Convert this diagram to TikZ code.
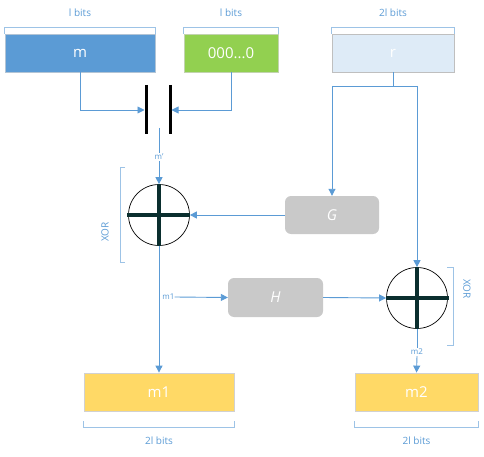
\documentclass[tikz,border=0pt]{standalone}
\usepackage{fontspec}
\setmainfont{Open Sans}
\usetikzlibrary{arrows.meta}
\definecolor{lblue}{HTML}{5B9BD5}
\definecolor{brk}{HTML}{9DC3E6}
\definecolor{mblue}{HTML}{5B9BD5}
\definecolor{zgreen}{HTML}{92D050}
\definecolor{rblue}{HTML}{DEEBF7}
\definecolor{ggray}{HTML}{C9C9C9}
\definecolor{yel}{HTML}{FFD966}
\definecolor{crossc}{HTML}{0A2E2E}
\tikzset{
  box/.style={draw=#1!70!black!40, line width=0.8pt, fill=#1, text=white, font=\fontsize{15}{17}\selectfont, inner sep=0pt},
  fbox/.style={rounded corners=6pt, fill=ggray, text=white, font=\itshape\fontsize{15}{17}\selectfont, inner sep=0pt, minimum width=94pt, minimum height=38pt},
  arr/.style={draw=lblue, line width=0.9pt, -{Triangle[length=7pt,width=7pt]}},
  ln/.style={draw=lblue, line width=0.9pt},
  brack/.style={draw=brk, line width=1pt},
  lbl/.style={text=lblue, font=\fontsize{10}{12}\selectfont},
  sml/.style={text=lblue, fill=white, inner sep=1pt, font=\fontsize{8}{9}\selectfont},
  xorc/.style={circle, draw=black, line width=0.7pt, minimum size=61pt, inner sep=0pt},
  crossl/.style={draw=crossc, line width=4pt},
  bar/.style={draw=black, line width=3pt}
}
\begin{document}
\begin{tikzpicture}[x=1pt,y=-1pt]
\useasboundingbox (0,0) rectangle (484,457);
% top boxes
\node[box=mblue, minimum width=150pt, minimum height=38pt] (m) at (80,53) {m};
\node[box=zgreen, minimum width=94pt, minimum height=38pt] (z) at (231,53) {000...0};
\node[box=rblue, draw=black!25, minimum width=122pt, minimum height=38pt] (r) at (393,53) {r};
% top brackets
\draw[brack] (m.north west) -- ++(0,-6) -| (m.north east);
\draw[brack] (z.north west) -- ++(0,-6) -| (z.north east);
\draw[brack] (r.north west) -- ++(0,-6) -| (r.north east);
\node[lbl] (lm) at (80,13) {l bits};
\node[lbl] (lz) at (231,13) {l bits};
\node[lbl] (lr) at (393,13) {2l bits};
% concat symbol
\draw[bar] (146,85) -- (146,134);
\draw[bar] (170,85) -- (170,134);
\coordinate (cL) at (144.5,110);
\coordinate (cR) at (171.5,110);
\coordinate (cB) at (159,128);
\draw[arr] (m.south) |- (cL);
\draw[arr] (z.south) |- (cR);
% XOR 1
\node[xorc] (x1) at (159,215) {};
\draw[crossl] (127,215) -- (190,215);
\draw[crossl] (x1.north) -- (x1.south);
\node[sml] (mp) at (159,157) {m'};
\draw[ln] (cB) -- (mp.north);
\draw[arr] (mp.south) -- (x1.north);
% G
\node[fbox] (G) at (332,215) {G};
\coordinate (rs) at (393,86);
\coordinate (rl) at (332,86);
\coordinate (rr) at (417,86);
\draw[ln] (r.south) -- (rs);
\draw[ln] (rl) -- (rr);
\draw[arr] (rl) -- (G.north);
\draw[arr] (G.west) -- (x1.east);
% XOR 2
\node[xorc] (x2) at (417,298) {};
\draw[crossl] (386,298) -- (449,298);
\draw[crossl] (x2.north) -- (x2.south);
\draw[arr] (rr) -- (x2.north);
% H
\node[fbox, minimum width=95pt, minimum height=39pt] (H) at (275.5,297.5) {H};
% bottom boxes
\node[box=yel, draw=black!18, minimum width=150pt, minimum height=38pt] (m1) at (159,392) {m1};
\node[box=yel, draw=black!18, minimum width=123pt, minimum height=38pt] (m2) at (416.5,392) {m2};
\draw[arr] (x1.south) -- (m1.north);
\node[text=lblue, inner sep=0pt, font=\fontsize{8}{9}\selectfont] (m1l) at (168.5,297) {m1};
\draw[arr] (m1l.east) -- (H.west);
\draw[arr] (H.east) -- (x2.west);
\node[sml] (m2l) at (417,352) {m2};
\draw[ln] (x2.south) -- (m2l.north);
\draw[arr] (m2l.south) -- (m2.north);
% bottom brackets
\draw[brack] ([yshift=-10pt]m1.south west) -- ++(0,6) -| ([yshift=-10pt]m1.south east);
\draw[brack] ([yshift=-10pt]m2.south west) -- ++(0,6) -| ([yshift=-10pt]m2.south east);
\node[lbl] (b1) at (159,441) {2l bits};
\node[lbl] (b2) at (416.5,441) {2l bits};
% XOR brackets
\draw[brack] (125,168) -- (120,168) -- (120,262) -- (125,262);
\node[lbl, rotate=90] (xl1) at (105,232) {XOR};
\draw[brack] (447,267) -- (453,267) -- (453,345) -- (447,345);
\node[lbl, rotate=-90] (xl2) at (467,289) {XOR};
\end{tikzpicture}
\end{document}
